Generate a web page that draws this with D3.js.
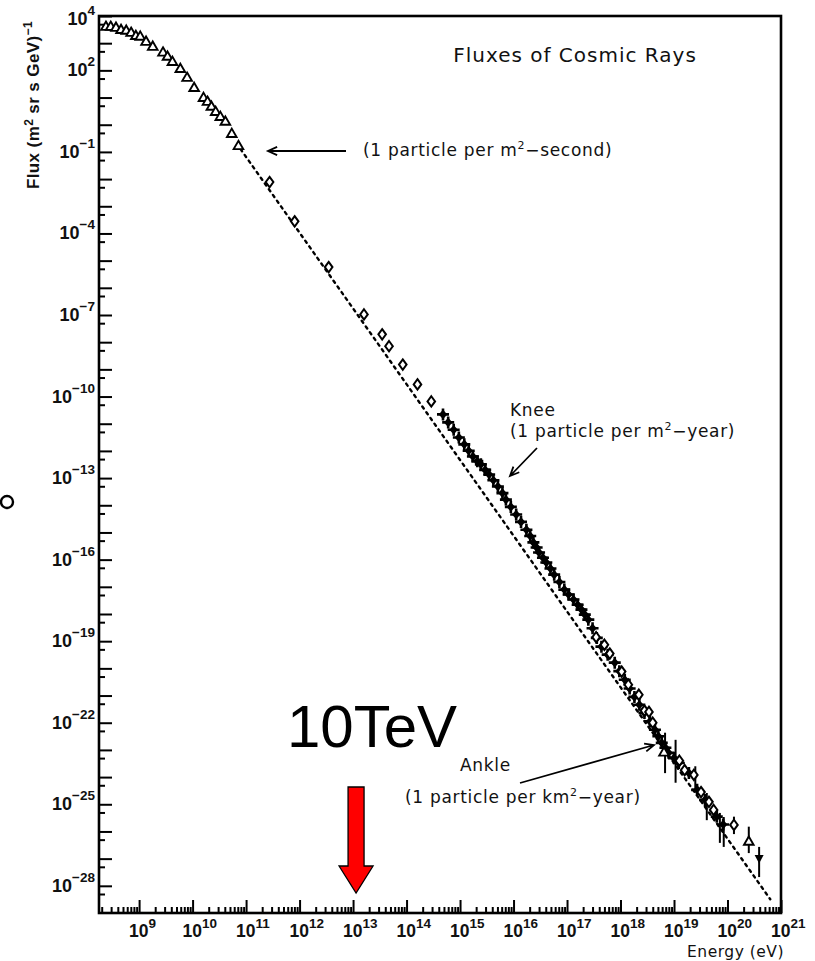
<!DOCTYPE html>
<html>
<head>
<meta charset="utf-8">
<script src="https://cdn.jsdelivr.net/npm/d3@7"></script>
<style>
  html, body { margin: 0; padding: 0; background: #fff; }
  svg { display: block; }
</style>
</head>
<body>
<svg id="chart" width="815" height="961"></svg>
<script>
// ---- Data: energy (eV) and flux (m^2 sr s GeV)^-1 ----

// Low-energy measurements (open triangles)
const triE = [2.4e8, 2.95e8, 3.7e8, 4.6e8, 5.75e8, 7.1e8, 8.7e8, 1.05e9, 1.35e9, 1.8e9,
              2.8e9, 3.4e9, 4.2e9, 5.9e9, 7.9e9, 1.07e10, 1.6e10, 1.9e10, 2.25e10, 2.7e10,
              3.3e10, 4.1e10, 5.4e10, 7.2e10];
const triF = [3.9e3, 3.9e3, 3.6e3, 3.0e3, 2.8e3, 2.35e3, 1.8e3, 1.7e3, 1.1e3, 7.2e2,
              4.4e2, 3.1e2, 2.0e2, 1.1e2, 52, 22, 9.5, 6.8, 4.5, 2.9,
              1.9, 1.26, 0.45, 0.16];

// Direct measurements up to the knee (open diamonds)
const diaE = [2.75e11, 8.1e11, 3.5e12, 1.6e13, 3.5e13, 4.7e13, 8.5e13, 1.6e14, 2.9e14];
const diaF = [7.8e-3, 2.8e-4, 5.8e-6, 1.05e-7, 1.95e-8, 7.1e-9, 1.5e-9, 2.8e-10, 6.6e-11];

// Air-shower measurements (filled crosses)
const airE = [4.8e14, 6.0e14, 7.6e14, 9.5e14, 1.2e15, 1.45e15, 1.74e15, 2.1e15, 2.45e15, 2.95e15,
              3.5e15, 4.2e15, 5.1e15, 6.2e15, 7.2e15, 8.9e15, 1.12e16, 1.38e16, 1.74e16, 2.05e16,
              2.35e16, 2.7e16, 3.0e16, 3.55e16, 4.1e16, 4.9e16, 5.75e16, 7.2e16, 8.9e16, 1.07e17,
              1.32e17, 1.58e17, 1.86e17, 2.15e17, 2.5e17, 3.0e17, 3.6e17, 4.4e17, 5.75e17, 7.8e17,
              9.5e17, 1.2e18, 1.48e18, 1.82e18, 2.25e18, 2.8e18, 3.55e18, 4.4e18, 5.1e18, 5.9e18,
              6.9e18, 7.9e18, 1.0e19, 1.23e19, 1.9e19, 2.7e19, 3.8e19, 6.3e19, 8.3e19];
const airF = [2.2e-11, 1.12e-11, 6.0e-12, 3.1e-12, 1.74e-12, 1.02e-12, 6.2e-13, 4.2e-13, 3.2e-13, 2.0e-13,
              1.35e-13, 8.3e-14, 4.9e-14, 2.8e-14, 1.62e-14, 8.7e-15, 4.6e-15, 2.45e-15, 1.26e-15, 7.4e-16,
              4.3e-16, 2.8e-16, 1.82e-16, 1.17e-16, 7.8e-17, 4.7e-17, 2.8e-17, 1.5e-17, 7.9e-18, 5.2e-18,
              3.4e-18, 2.2e-18, 1.45e-18, 9.5e-19, 6.2e-19, 3.0e-19, 1.32e-19, 6.3e-20, 3.2e-20, 1.62e-20,
              7.9e-21, 3.8e-21, 1.82e-21, 8.9e-22, 4.6e-22, 2.3e-22, 1.12e-22, 5.5e-23, 3.2e-23, 1.82e-23,
              1.2e-23, 7.8e-24, 5.0e-24, 3.3e-24, 1.4e-24, 3.4e-25, 1.45e-25, 3.5e-26, 1.8e-26];

// Highest-energy air-shower arrays (open diamonds)
const uheE = [3.5e17, 5.0e17, 6.3e17, 1.05e18, 1.4e18, 2.2e18, 2.8e18, 3.4e18, 4.0e18, 1.26e19,
              1.58e19, 2.35e19, 3.2e19, 4.5e19, 5.5e19, 1.32e20];
const uheF = [1.4e-19, 7.4e-20, 3.5e-20, 7.6e-21, 2.5e-21, 1.07e-21, 2.8e-22, 2.5e-22, 1.0e-22, 4.0e-24,
              1.8e-24, 1.2e-24, 2.8e-25, 1.23e-25, 6.2e-26, 1.74e-26];

// Open triangles above the ankle
const hiTriE = [6.5e18, 2.5e20];
const hiTriF = [7.8e-24, 4.1e-27];

// Error bars: energy, lower and upper flux
const errE  = [6.8e18, 1.07e19, 2.5e19, 4.1e19, 7.2e19, 8.5e19, 1.32e20, 2.5e20];
const errLo = [1.4e-24, 6.2e-25, 4.0e-25, 2.6e-26, 3.8e-27, 2.7e-27, 8.0e-27, 1.6e-27];
const errHi = [4.3e-23, 2.35e-23, 2.5e-24, 2.6e-25, 4.8e-26, 3.4e-26, 3.5e-26, 1.5e-26];

// Upper limit at the highest energy
const limE = [3.9e20];
const limF = [1.05e-27];
const limLo = [2.1e-28];
const limHi = [2.7e-27];

// Reference power law (dotted)
const lawE = [7.9e10, 6.3e20];
const lawF = [0.126, 3.2e-29];

// Axis ticks
const xMajorExp = [9, 10, 11, 12, 13, 14, 15, 16, 17, 18, 19, 20, 21];
const yLabelExp = [4, 2, -1, -4, -7, -10, -13, -16, -19, -22, -25, -28];

// ---- Layout ----
const svg = d3.select("#chart");
const plotL = 99, plotR = 781, plotT = 16, plotB = 913;

const x = d3.scaleLog().domain([1.78e8, 1e21]).range([plotL, plotR]);
const y = d3.scaleLog().domain([1e-29, 1e4]).range([plotB, plotT]);

const labelFont = "'Liberation Sans', Arial, sans-serif";
const noteFont = "'DejaVu Sans', Verdana, sans-serif";

// Axis ticks drawn inward
const xMajors = xMajorExp.map(e => +("1e" + e));
const xMinors = [];
for (let e = 8; e <= 20; e++) for (let k = 2; k <= 9; k++) {
  const v = k * +("1e" + e);
  if (v >= x.domain()[0] && v <= x.domain()[1]) xMinors.push(v);
}
const yMajors = [];
const yMinors = [];
for (let e = -28; e <= 4; e++) yMajors.push(+("1e" + e));
for (let e = -29; e <= 3; e++) yMinors.push(5 * +("1e" + e));

function styleAxis(g) {
  g.select(".domain").remove();
  g.selectAll(".tick line").attr("stroke", "#000").attr("stroke-width", 2);
  g.selectAll(".tick text").remove();
}

svg.append("g").attr("transform", `translate(0,${plotB})`)
  .call(d3.axisBottom(x).tickValues(xMajors).tickSize(-13).tickFormat(""))
  .call(styleAxis);
svg.append("g").attr("transform", `translate(0,${plotB})`)
  .call(d3.axisBottom(x).tickValues(xMinors).tickSize(-6).tickFormat(""))
  .call(styleAxis);
svg.append("g").attr("transform", `translate(${plotL},0)`)
  .call(d3.axisLeft(y).tickValues(yMajors).tickSize(-13).tickFormat(""))
  .call(styleAxis);
svg.append("g").attr("transform", `translate(${plotL},0)`)
  .call(d3.axisLeft(y).tickValues(yMinors).tickSize(-6).tickFormat(""))
  .call(styleAxis);

// Frame
svg.append("rect")
  .attr("x", plotL).attr("y", plotT)
  .attr("width", plotR - plotL).attr("height", plotB - plotT)
  .attr("fill", "none").attr("stroke", "#000").attr("stroke-width", 2.6);

// Y tick labels: 10^n right-aligned
const yLab = svg.append("g").attr("font-family", labelFont).attr("font-weight", "bold").attr("fill", "#111");
yLabelExp.forEach(e => {
  const t = yLab.append("text")
    .attr("x", 95).attr("y", Math.max(y(+("1e" + e)) + 6, 25))
    .attr("text-anchor", "end").attr("font-size", 18);
  t.append("tspan").text("10");
  t.append("tspan").attr("dy", -10).attr("font-size", 13.5).text(String(e).replace("-", "\u2212"));
});

// X tick labels: "10" centred on the tick, exponent raised to its right
const xLab = svg.append("g").attr("font-family", labelFont).attr("font-weight", "bold").attr("fill", "#111");
xMajorExp.forEach(e => {
  const px = x(+("1e" + e));
  const t = xLab.append("text")
    .attr("x", px - 10).attr("y", 937)
    .attr("text-anchor", "start").attr("font-size", 17.5);
  t.append("tspan").text("10");
  t.append("tspan").attr("dy", -9).attr("font-size", 13.5).text(String(e));
});

// Axis titles
svg.append("text")
  .attr("transform", "translate(39,105) rotate(-90)")
  .attr("text-anchor", "middle")
  .attr("font-family", labelFont).attr("font-weight", "bold").attr("font-size", 17)
  .attr("letter-spacing", 0.4)
  .attr("fill", "#111")
  .call(t => {
    t.append("tspan").text("Flux (m");
    t.append("tspan").attr("dy", -6).attr("font-size", 12).text("2");
    t.append("tspan").attr("dy", 6).text(" sr s GeV)");
    t.append("tspan").attr("dy", -7).attr("font-size", 12).text("\u22121");
  });

svg.append("text")
  .attr("x", 784).attr("y", 957)
  .attr("text-anchor", "end")
  .attr("font-family", noteFont).attr("font-size", 15.5).attr("letter-spacing", 0.5)
  .attr("fill", "#111")
  .text("Energy (eV)");

// Title
svg.append("text")
  .attr("x", 575).attr("y", 62)
  .attr("text-anchor", "middle")
  .attr("font-family", noteFont).attr("font-size", 20).attr("letter-spacing", 1)
  .attr("fill", "#111")
  .text("Fluxes of Cosmic Rays");

// ---- Marks ----
const plot = svg.append("g");

// Reference power law
const law = d3.line().x(d => x(d[0])).y(d => y(d[1]));
plot.append("path")
  .datum(d3.zip(lawE, lawF))
  .attr("d", law)
  .attr("fill", "none").attr("stroke", "#000")
  .attr("stroke-width", 2.4).attr("stroke-dasharray", "2.5,4.5")
  .attr("stroke-linecap", "round");

// Error bars
plot.append("g").selectAll("line")
  .data(d3.zip(errE, errLo, errHi))
  .join("line")
  .attr("x1", d => x(d[0])).attr("x2", d => x(d[0]))
  .attr("y1", d => y(d[1])).attr("y2", d => y(d[2]))
  .attr("stroke", "#000").attr("stroke-width", 2);

// Air-shower crosses
const crossPath = "M-6,0L6,0M0,-6L0,6";
const crossCore = "M0,-4.8L4.2,0L0,4.8L-4.2,0Z";
const air = plot.append("g").selectAll("g")
  .data(d3.zip(airE, airF))
  .join("g")
  .attr("transform", d => `translate(${x(d[0])},${y(d[1])})`);
air.append("path").attr("d", crossPath).attr("stroke", "#000").attr("stroke-width", 2.6);
air.append("path").attr("d", crossCore).attr("fill", "#000");

// Open diamonds
const diamond = "M0,-5.2L3.8,0L0,5.2L-3.8,0Z";
plot.append("g").selectAll("path")
  .data(d3.zip(diaE, diaF).concat(d3.zip(uheE, uheF)))
  .join("path")
  .attr("d", diamond)
  .attr("transform", d => `translate(${x(d[0])},${y(d[1])})`)
  .attr("fill", "#fff").attr("stroke", "#000").attr("stroke-width", 2);

// Open triangles
const tri = d3.symbol(d3.symbolTriangle, 40)();
plot.append("g").selectAll("path")
  .data(d3.zip(triE, triF).concat(d3.zip(hiTriE, hiTriF)))
  .join("path")
  .attr("d", tri)
  .attr("transform", d => `translate(${x(d[0])},${y(d[1])})`)
  .attr("fill", "#fff").attr("stroke", "#000").attr("stroke-width", 1.9);

// Upper limit: bar with a filled downward triangle
const lim = plot.append("g").selectAll("g")
  .data(d3.zip(limE, limF, limLo, limHi))
  .join("g");
lim.append("line")
  .attr("x1", d => x(d[0])).attr("x2", d => x(d[0]))
  .attr("y1", d => y(d[3])).attr("y2", d => y(d[2]))
  .attr("stroke", "#000").attr("stroke-width", 2);
lim.append("path")
  .attr("d", "M-4.5,-3L4.5,-3L0,5.5Z")
  .attr("transform", d => `translate(${x(d[0])},${y(d[1])})`)
  .attr("fill", "#000");

// ---- Annotations ----
const notes = svg.append("g")
  .attr("font-family", noteFont).attr("font-size", 17).attr("letter-spacing", 0.7)
  .attr("fill", "#111");

function arrow(x1, y1, x2, y2) {
  const a = Math.atan2(y2 - y1, x2 - x1), h = 10, s = 0.42;
  notes.append("path")
    .attr("d", `M${x1},${y1}L${x2},${y2}` +
      `M${x2 - h * Math.cos(a - s)},${y2 - h * Math.sin(a - s)}L${x2},${y2}` +
      `L${x2 - h * Math.cos(a + s)},${y2 - h * Math.sin(a + s)}`)
    .attr("fill", "none").attr("stroke", "#000").attr("stroke-width", 1.8);
}

function supText(px, py, parts) {
  const t = notes.append("text").attr("x", px).attr("y", py);
  parts.forEach(p => {
    if (p.sup) t.append("tspan").attr("dy", -7).attr("font-size", 11).text(p.sup);
    else t.append("tspan").attr("dy", p.back ? 7 : 0).text(p.t);
  });
}

arrow(346, 151, 268, 151);
supText(363, 156, [{t: "(1 particle per m"}, {sup: "2"}, {t: "\u2212second)", back: true}]);

notes.append("text").attr("x", 510).attr("y", 416).text("Knee");
supText(510, 437, [{t: "(1 particle per m"}, {sup: "2"}, {t: "\u2212year)", back: true}]);
arrow(537, 448, 510, 476);

notes.append("text").attr("x", 460).attr("y", 771).text("Ankle");
supText(405, 803, [{t: "(1 particle per km"}, {sup: "2"}, {t: "\u2212year)", back: true}]);
arrow(520, 783, 654, 745);

// 10 TeV marker
const tev = x(1e13);
svg.append("text")
  .attr("x", tev + 19).attr("y", 747)
  .attr("text-anchor", "middle")
  .attr("font-family", labelFont).attr("font-size", 60)
  .attr("fill", "#000")
  .text("10TeV");
svg.append("path")
  .attr("d", `M${tev - 5},787L${tev + 11},787L${tev + 11},866L${tev + 20},866L${tev + 3},893` +
             `L${tev - 14},866L${tev - 5},866Z`)
  .attr("fill", "#ff0000").attr("stroke", "#000").attr("stroke-width", 1.3);

// Small ring at the left margin
svg.append("circle")
  .attr("cx", 7).attr("cy", 502).attr("r", 6)
  .attr("fill", "none").attr("stroke", "#000").attr("stroke-width", 2.4);
</script>
</body>
</html>
